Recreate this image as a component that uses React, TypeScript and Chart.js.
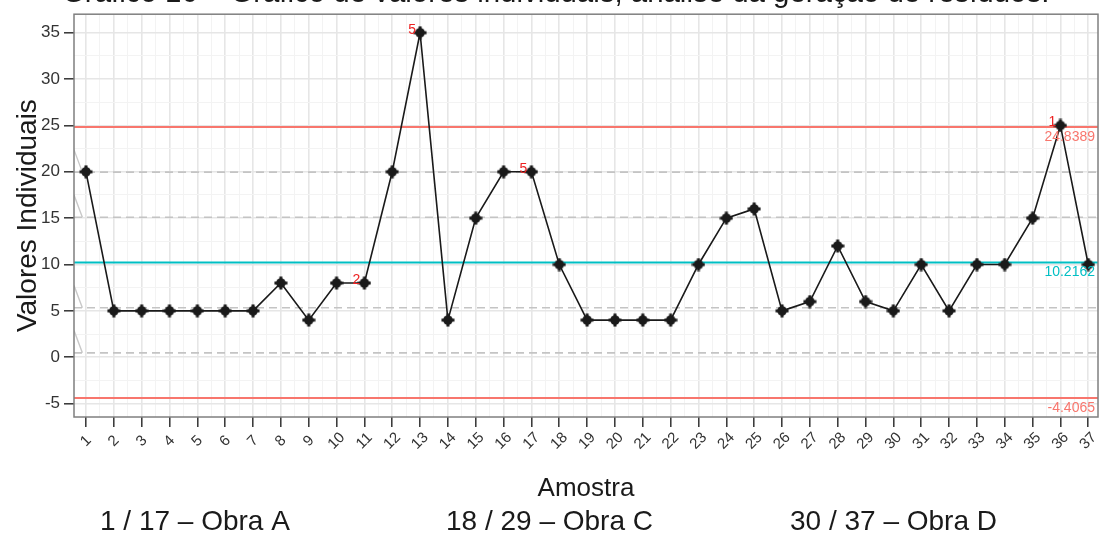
import React, { useEffect, useRef } from 'react';
import { Chart, registerables } from 'chart.js';

Chart.register(...registerables);

// ---- data ----
const samples = [1, 2, 3, 4, 5, 6, 7, 8, 9, 10, 11, 12, 13, 14, 15, 16, 17, 18, 19, 20, 21, 22, 23, 24, 25, 26, 27, 28, 29, 30, 31, 32, 33, 34, 35, 36, 37];
const values = [20, 5, 5, 5, 5, 5, 5, 8, 4, 8, 8, 20, 35, 4, 15, 20, 20, 10, 4, 4, 4, 4, 10, 15, 16, 5, 6, 12, 6, 5, 10, 5, 10, 10, 15, 25, 10];
const limitValues = [24.8389, 10.2162, -4.4065]; // UCL, CL, LCL
const limitLabels = ['24.8389', '10.2162', '-4.4065'];
const zoneValues = [19.965, 15.09, 5.342, 0.468];
const ruleSamples = [11, 13, 17, 36];
const ruleLabels = ['2', '5', '5', '1'];
const yTickValues = [-5, 0, 5, 10, 15, 20, 25, 30, 35];
const groupLabels = ['1 / 17 – Obra A', '18 / 29 – Obra C', '30 / 37 – Obra D'];
const titleText = 'Gráfico 16 – Gráfico de valores individuais, análise da geração de resíduos.';
const xTitle = 'Amostra';
const yTitle = 'Valores Individuais';

const X_MIN = 0.57;
const X_MAX = 37.35;
const Y_MIN = -6.45;
const Y_MAX = 37.0;

const FONT = '"Liberation Sans", Arial, Helvetica, sans-serif';
const LIMIT_COLORS = ['#F8766D', '#00BFC4', '#F8766D'];

function makeMarker(): HTMLCanvasElement {
  const c = document.createElement('canvas');
  c.width = 14;
  c.height = 14;
  const g = c.getContext('2d')!;
  g.fillStyle = '#1a1a1a';
  g.beginPath();
  g.arc(7, 7, 4.8, 0, Math.PI * 2);
  g.fill();
  g.fillRect(0.5, 5.5, 13, 3);
  g.fillRect(5.5, 0.5, 3, 13);
  return c;
}

const overlay = {
  id: 'overlay',
  afterDatasetsDraw(chart: any) {
    const { ctx, chartArea: a, scales } = chart;
    const x = scales.x;
    const y = scales.y;
    ctx.save();

    // panel border
    ctx.strokeStyle = '#7f7f7f';
    ctx.lineWidth = 1.5;
    ctx.strokeRect(a.left, a.top, a.right - a.left, a.bottom - a.top);

    // rule violation labels
    ctx.font = `14px ${FONT}`;
    ctx.fillStyle = '#EE2222';
    ctx.textAlign = 'center';
    ctx.textBaseline = 'middle';
    ruleSamples.forEach((s, i) => {
      const px = x.getPixelForValue(s);
      const py = y.getPixelForValue(values[s - 1]);
      ctx.fillText(ruleLabels[i], px - 8, py - 3);
    });

    // limit labels
    ctx.font = `14px ${FONT}`;
    ctx.textAlign = 'right';
    limitValues.forEach((v, i) => {
      ctx.fillStyle = LIMIT_COLORS[i];
      ctx.fillText(limitLabels[i], a.right - 3, y.getPixelForValue(v) + 10);
    });

    // x tick labels (rotated 45°)
    ctx.font = `15px ${FONT}`;
    ctx.fillStyle = '#333333';
    ctx.textAlign = 'center';
    ctx.textBaseline = 'middle';
    samples.forEach((s) => {
      const px = x.getPixelForValue(s);
      ctx.save();
      ctx.translate(px, a.bottom + 24);
      ctx.rotate(-Math.PI / 4);
      ctx.fillText(String(s), 0, 0);
      ctx.restore();
    });

    // axis titles
    ctx.fillStyle = '#1a1a1a';
    ctx.font = `26px ${FONT}`;
    ctx.textAlign = 'center';
    ctx.textBaseline = 'alphabetic';
    ctx.fillText(xTitle, (a.left + a.right) / 2, 496);
    ctx.save();
    ctx.translate(36, (a.top + a.bottom) / 2);
    ctx.rotate(-Math.PI / 2);
    ctx.font = `28px ${FONT}`;
    ctx.fillText(yTitle, 0, 0);
    ctx.restore();

    // group captions
    ctx.font = `28px ${FONT}`;
    ctx.textAlign = 'left';
    const capX = [100, 446, 790];
    groupLabels.forEach((t, i) => ctx.fillText(t, capX[i], 530));

    // clipped title at top
    ctx.font = `24px ${FONT}`;
    const w = ctx.measureText(titleText).width;
    const size = 24 * (988 / w);
    ctx.font = `${size}px ${FONT}`;
    ctx.textAlign = 'left';
    ctx.fillText(titleText, 62, 1.5);

    ctx.restore();
  },
};

export default function App() {
  const ref = useRef<HTMLCanvasElement | null>(null);

  useEffect(() => {
    if (!ref.current) return;
    const marker = makeMarker();
    const hline = (v: number) => [
      { x: X_MIN, y: v },
      { x: X_MAX, y: v },
    ];
    const diag = (v: number) => [
      { x: X_MIN, y: v + 2.4 },
      { x: X_MIN + 0.3, y: v },
    ];

    const datasets: any[] = [
      {
        label: 'valores',
        data: samples.map((s, i) => ({ x: s, y: values[i] })),
        borderColor: '#1a1a1a',
        borderWidth: 1.6,
        pointStyle: marker,
        pointRadius: 6,
        tension: 0,
      },
    ];
    limitValues.forEach((v, i) =>
      datasets.push({
        data: hline(v),
        borderColor: LIMIT_COLORS[i],
        borderWidth: 2,
        pointRadius: 0,
      })
    );
    zoneValues.forEach((v) =>
      datasets.push({
        data: hline(v),
        borderColor: '#c4c4c4',
        borderWidth: 1.6,
        borderDash: [8, 5],
        pointRadius: 0,
      })
    );
    zoneValues.forEach((v) =>
      datasets.push({
        data: diag(v),
        borderColor: '#c8c8c8',
        borderWidth: 1.4,
        pointRadius: 0,
      })
    );

    const xTickList: number[] = [];
    for (let s = 1; s <= 37; s += 0.5) xTickList.push(s);
    const yTickList: number[] = [];
    for (let v = -5; v <= 35; v += 2.5) yTickList.push(v);

    const chart = new Chart(ref.current, {
      type: 'line',
      data: { datasets },
      plugins: [overlay],
      options: {
        animation: false,
        responsive: false,
        maintainAspectRatio: false,
        layout: { autoPadding: false, padding: { top: 12, right: 2, left: 0, bottom: 0 } },
        plugins: { legend: { display: false }, tooltip: { enabled: false } },
        scales: {
          x: {
            type: 'linear',
            min: X_MIN,
            max: X_MAX,
            afterBuildTicks: (axis: any) => {
              axis.ticks = xTickList.map((v) => ({ value: v }));
            },
            afterFit: (scale: any) => {
              scale.height = 116;
            },
            ticks: { display: false },
            border: { display: false },
            grid: {
              drawTicks: true,
              tickLength: 10,
              tickWidth: 1.5,
              tickColor: (c: any) => (Number.isInteger(c.tick?.value) ? '#333333' : 'rgba(0,0,0,0)'),
              color: (c: any) => (Number.isInteger(c.tick?.value) ? '#e6e6e6' : '#f3f3f3'),
              lineWidth: (c: any) => (Number.isInteger(c.tick?.value) ? 1.6 : 1),
            },
          },
          y: {
            type: 'linear',
            min: Y_MIN,
            max: Y_MAX,
            afterBuildTicks: (axis: any) => {
              axis.ticks = yTickList.map((v) => ({ value: v }));
            },
            afterFit: (scale: any) => {
              scale.width = 74;
            },
            ticks: {
              padding: 4,
              color: '#333333',
              font: { size: 17, family: FONT },
              callback: (v: any) => (yTickValues.includes(Number(v)) ? String(v) : ''),
            },
            border: { display: false },
            grid: {
              drawTicks: true,
              tickLength: 10,
              tickWidth: 1.5,
              tickColor: (c: any) => (yTickValues.includes(c.tick?.value) ? '#333333' : 'rgba(0,0,0,0)'),
              color: (c: any) => (yTickValues.includes(c.tick?.value) ? '#e6e6e6' : '#f3f3f3'),
              lineWidth: (c: any) => (yTickValues.includes(c.tick?.value) ? 1.6 : 1),
            },
          },
        },
      },
    });
    return () => chart.destroy();
  }, []);

  return (
    <div style={{ position: 'fixed', left: 0, top: 0, width: 1100, height: 533, background: '#fff' }}>
      <canvas ref={ref} width={1100} height={533} style={{ display: 'block', width: 1100, height: 533 }} />
    </div>
  );
}
